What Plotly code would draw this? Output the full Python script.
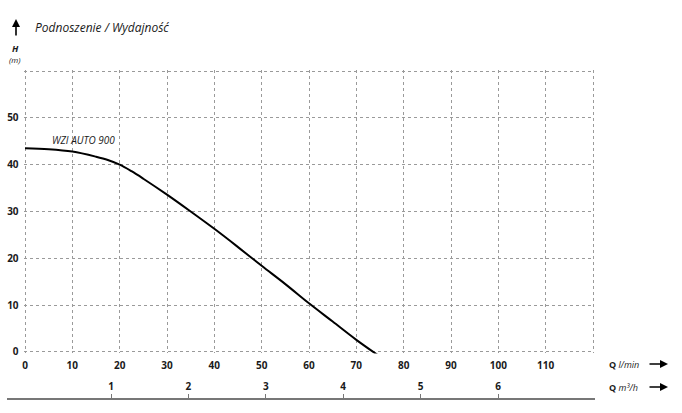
import plotly.graph_objects as go

# Data
q_lmin = [0, 5, 10, 15, 17.5, 20, 22.5, 25, 30, 35, 40, 45, 50, 55, 60, 65, 70, 74.6]
h_m = [43.5, 43.3, 42.8, 41.7, 41.0, 40.0, 38.6, 37.0, 33.6, 30.0, 26.3, 22.4, 18.4, 14.5, 10.4, 6.5, 2.6, -0.7]
series_name = "WZI AUTO 900"

x_ticks = [0, 10, 20, 30, 40, 50, 60, 70, 80, 90, 100, 110, 120]
x_ticktext = ["0", "10", "20", "30", "40", "50", "60", "70", "80", "90", "100", "110", ""]
y_ticks = [0, 10, 20, 30, 40, 50, 60]
y_ticktext = ["0", "10", "20", "30", "40", "50", ""]
m3h_ticks = [1, 2, 3, 4, 5, 6]

W, H = 682, 413
L, R, T, B = 7, 595, 68, 399  # plot area in pixels

# pixel positions of the main axes
X0_PX, X120_PX = 25, 593
Y0_PX, Y60_PX = 352, 71
XMIN, XMAX = -0.3, 120.3
YMIN, YMAX = -0.3, 60.3


def px(x):
    return (x - L) / (R - L)


def py(y):
    return (B - y) / (B - T)


xs = (X120_PX - X0_PX) / 120.0
ys = (Y0_PX - Y60_PX) / 60.0
x_dom = [px(X0_PX + XMIN * xs), px(X0_PX + XMAX * xs)]
y_dom = [py(Y0_PX - YMIN * ys), py(Y0_PX - YMAX * ys)]

FONT = "Open Sans"
GRID = "#9a9a9a"

fig = go.Figure()
fig.add_trace(go.Scatter(
    x=q_lmin, y=h_m, mode="lines", line=dict(color="#000000", width=2, shape="spline", smoothing=1.0),
    name=series_name, showlegend=False, hoverinfo="skip", cliponaxis=False,
))
# invisible trace to register the m3/h axis
fig.add_trace(go.Scatter(
    x=m3h_ticks, y=[0] * len(m3h_ticks), xaxis="x2", yaxis="y2", mode="markers",
    marker=dict(opacity=0), showlegend=False, hoverinfo="skip",
))

fig.update_layout(
    width=W, height=H,
    margin=dict(l=L, r=W - R, t=T, b=H - B, pad=0, autoexpand=False),
    paper_bgcolor="white", plot_bgcolor="rgba(0,0,0,0)",
    font=dict(family=FONT, color="#1a1a1a"),
    showlegend=False,
    xaxis=dict(
        domain=x_dom, range=[XMIN, XMAX], anchor="y",
        tickvals=x_ticks, ticktext=x_ticktext,
        showgrid=True, gridcolor=GRID, griddash="dot", gridwidth=1,
        zeroline=False, showline=False, ticks="",
        tickfont=dict(family=FONT, size=10, weight="bold", color="#1a1a1a"),
        ticklabelstandoff=5, automargin=False,
    ),
    yaxis=dict(
        domain=y_dom, range=[YMIN, YMAX], anchor="x",
        tickvals=y_ticks, ticktext=y_ticktext,
        showgrid=True, gridcolor=GRID, griddash="dot", gridwidth=1,
        zeroline=False, showline=False, ticks="",
        tickfont=dict(family=FONT, size=10, weight="bold", color="#1a1a1a"),
        ticklabelstandoff=4, automargin=False,
    ),
    xaxis2=dict(
        domain=[0, 1], anchor="free", position=0, side="top",
        range=[(L - 33.6) / 77.4, (R - 33.6) / 77.4],
        tickvals=m3h_ticks, showgrid=False, zeroline=False,
        showline=True, linecolor="#777777", linewidth=1.5,
        ticks="outside", ticklen=4, tickwidth=1.2, tickcolor="#777777",
        tickfont=dict(family=FONT, size=10, weight="bold", color="#1a1a1a"),
        automargin=False,
    ),
    yaxis2=dict(
        domain=[0, 0.1], anchor="x2", range=[0, 1], visible=False,
        showgrid=False, zeroline=False,
    ),
)

ann = []
ann.append(dict(xref="paper", yref="paper", x=px(33), y=py(28), xanchor="left", yanchor="middle",
                text="<i>Podnoszenie / Wydajność</i>", showarrow=False,
                font=dict(family=FONT, size=12, color="#1a1a1a")))
ann.append(dict(xref="paper", yref="paper", x=px(16), y=py(19), text="", showarrow=True,
                ax=0, ay=18, arrowhead=2, arrowsize=1, arrowwidth=1.6, arrowcolor="#000000"))
ann.append(dict(xref="paper", yref="paper", x=px(15), y=py(48), xanchor="center", yanchor="middle",
                text="<b><i>H</i></b>", showarrow=False, font=dict(family=FONT, size=9, color="#1a1a1a")))
ann.append(dict(xref="paper", yref="paper", x=px(15), y=py(60), xanchor="center", yanchor="middle",
                text="<i>(m)</i>", showarrow=False, font=dict(family=FONT, size=8, color="#1a1a1a")))
ann.append(dict(xref="x", yref="y", x=12.3, y=45.2, xanchor="center", yanchor="middle",
                text="<i>" + series_name + "</i>", showarrow=False,
                font=dict(family=FONT, size=10, color="#1a1a1a")))
ann.append(dict(xref="paper", yref="paper", x=px(607), y=py(364), xanchor="left", yanchor="middle",
                text="<b>Q</b> <i>l/min</i>", showarrow=False, font=dict(family=FONT, size=9, color="#1a1a1a")))
ann.append(dict(xref="paper", yref="paper", x=px(607), y=py(387), xanchor="left", yanchor="middle",
                text="<b>Q</b> <i>m³/h</i>", showarrow=False, font=dict(family=FONT, size=9, color="#1a1a1a")))
for yy in (364, 387):
    ann.append(dict(xref="paper", yref="paper", x=px(668), y=py(yy), text="", showarrow=True,
                    ax=-20, ay=0, arrowhead=2, arrowsize=1, arrowwidth=1.6, arrowcolor="#000000"))
fig.update_layout(annotations=ann)

fig.write_html("out.html", config={"displayModeBar": False},
               post_script="document.body.style.margin='0';document.body.style.padding='0';")
